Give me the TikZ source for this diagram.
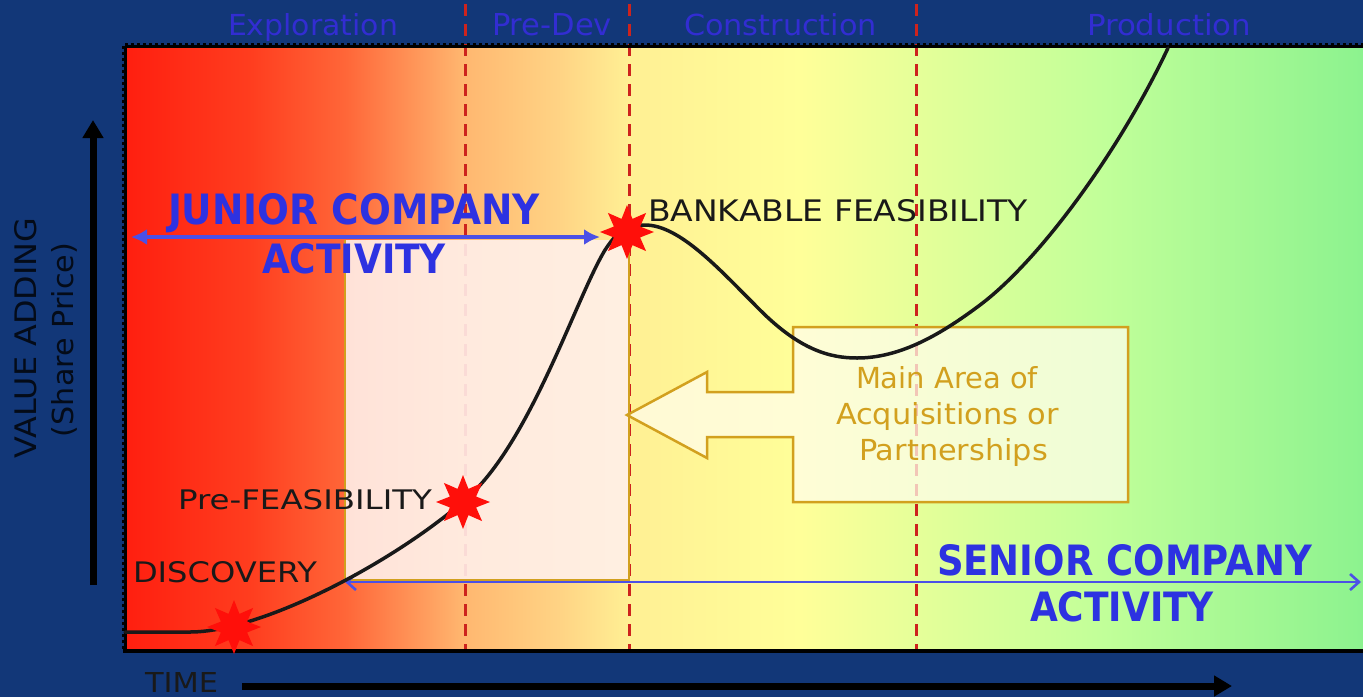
\documentclass[tikz,border=0pt]{standalone}
\usepackage{fontspec}
\setmainfont{DejaVu Sans}
\usepackage{graphicx}
\usetikzlibrary{shapes.geometric,arrows.meta}

\definecolor{navy}{RGB}{18,55,120}
\definecolor{phaseblue}{RGB}{50,45,210}
\definecolor{actblue}{RGB}{45,50,225}
\definecolor{arrowblue}{RGB}{75,80,230}
\definecolor{gold}{RGB}{210,160,30}
\definecolor{dashred}{RGB}{205,35,30}
\definecolor{starred}{RGB}{255,15,10}
\definecolor{pinkfill}{RGB}{255,240,234}
\definecolor{calloutfill}{RGB}{255,253,235}

\pgfdeclarehorizontalshading{plotgrad}{100bp}{%
rgb(0bp)=(1,0.12,0.06);
rgb(25bp)=(1,0.12,0.06);
rgb(30.05bp)=(1,0.24,0.12);
rgb(33.89bp)=(1,0.4,0.22);
rgb(38.73bp)=(1,0.72,0.44);
rgb(42.57bp)=(1,0.83,0.52);
rgb(45.36bp)=(1,0.94,0.58);
rgb(52.26bp)=(1,1,0.6);
rgb(56.95bp)=(0.9,1,0.6);
rgb(64.38bp)=(0.76,1,0.6);
rgb(75bp)=(0.55,0.95,0.56);
rgb(100bp)=(0.55,0.95,0.56)}

\newcommand{\fitt}[3]{\resizebox{#1pt}{#2pt}{#3}}

\begin{document}
\begin{tikzpicture}[x=1pt,y=-1pt,
  txt/.style={inner sep=0pt,outer sep=0pt,anchor=base west},
  phase/.style={txt,text=phaseblue},
  blk/.style={txt,text=black!90},
  act/.style={txt,text=actblue,font=\bfseries},
  goldtxt/.style={txt,text=gold},
  axislbl/.style={txt,text=black!80!navy,rotate=90},
  phaseline/.style={dashred,line width=3pt,dash pattern=on 12pt off 8pt},
  starmark/.style={star,star points=8,star point ratio=1.9,fill=starred,draw=none,minimum size=54pt,inner sep=0pt},
  axisline/.style={black,line width=7pt},
  curveline/.style={black!90,line width=3.5pt,line join=round,line cap=round}
]
\useasboundingbox (0,0) rectangle (1363,697);
\fill[navy] (0,0) rectangle (1363,697);

% plot area
\shade[shading=plotgrad] (125,47) rectangle (1363,651);

% phase separators
\draw[phaseline] (465,4) -- (465,651);
\draw[phaseline] (629,4) -- (629,651);
\draw[phaseline] (916,4) -- (916,651);

% plot border
\draw[black,line width=3pt] (125,46) -- (1363,46);
\draw[black,line width=5pt,dash pattern=on 3pt off 3pt] (125,45) -- (1363,45);
\draw[black,line width=3pt] (125,46) -- (125,651);
\draw[black,line width=5pt,dash pattern=on 3pt off 3pt] (124,46) -- (124,651);
\draw[black,line width=4pt] (123,651) -- (1363,651);

% pink junior-to-senior box
\fill[pinkfill,opacity=0.9] (345,240) rectangle (629,580);
\draw[gold,line width=2.5pt] (345,240) -- (345,580) -- (629,580) -- (629,242);

% callout arrow
\path[fill=calloutfill,fill opacity=0.75,draw=gold,line width=2.5pt,line join=miter]
  (793,327) -- (1128,327) -- (1128,502) -- (793,502) -- (793,437) -- (707,437)
  -- (707,458) -- (627,415) -- (707,372) -- (707,392) -- (793,392) -- cycle;
\node[goldtxt] (mainarea) at (856,388) {\fitt{182}{22}{Main Area of}};
\node[goldtxt] (acq) at (836,424) {\fitt{223}{22}{Acquisitions or}};
\node[goldtxt] (partn) at (859,460) {\fitt{189}{22}{Partnerships}};

% senior arrow
\coordinate (sl) at (345,582);
\coordinate (sr) at (1361,582);
\draw[arrowblue,line width=2.6pt,{Straight Barb[length=9pt,width=16pt]}-{Straight Barb[length=9pt,width=16pt]}] (sl) -- (sr);

% value curve
\draw[curveline] (125,632) -- (190,632)
  .. controls (260,632) and (390,565) .. (465,500)
  .. controls (530,444) and (575,300) .. (605,250)
  .. controls (620,227) and (630,225) .. (645,225)
  .. controls (680,225) and (720,270) .. (760,310)
  .. controls (800,350) and (830,358) .. (857,358)
  .. controls (900,358) and (940,335) .. (980,305)
  .. controls (1040,260) and (1120,150) .. (1168,48);

% junior arrow
\coordinate (jl) at (131,237);
\coordinate (jr) at (600,237);
\draw[arrowblue,line width=4pt,{Latex[length=16pt,width=16pt]}-{Latex[length=16pt,width=16pt]}] (jl) -- (jr);

% milestone stars
\node[starmark] (sdisc) at (234,627) {};
\node[starmark] (spre) at (463,502) {};
\node[starmark] (sbank) at (627,232) {};

% phase labels
\node[phase] (exploration) at (228,35) {\fitt{170}{22}{Exploration}};
\node[phase] (predev) at (492,35) {\fitt{120}{22}{Pre-Dev}};
\node[phase] (construction) at (684,35) {\fitt{193}{22}{Construction}};
\node[phase] (production) at (1087,35) {\fitt{164}{22}{Production}};

% activity labels
\node[act] (junior) at (168,224) {\fitt{372}{31}{JUNIOR COMPANY}};
\node[act] (juniorb) at (262,273) {\fitt{184}{30}{ACTIVITY}};
\node[act] (senior) at (937,575) {\fitt{375}{31}{SENIOR COMPANY}};
\node[act] (seniorb) at (1030,621) {\fitt{184}{30}{ACTIVITY}};

% milestone labels
\node[blk] (discovery) at (133,582) {\fitt{184}{21}{DISCOVERY}};
\node[blk] (prefeas) at (178,509) {\fitt{254}{20}{Pre-FEASIBILITY}};
\node[blk] (bankable) at (648,221) {\fitt{380}{22}{BANKABLE FEASIBILITY}};

% axes
\coordinate (yb) at (93,585);
\coordinate (yt) at (93,120);
\draw[axisline,-{Triangle[length=18pt,width=20pt]}] (yb) -- (yt);
\coordinate (tl) at (242,686);
\coordinate (tr) at (1232,686);
\draw[axisline,-{Triangle[length=18pt,width=20pt]}] (tl) -- (tr);

\node[axislbl] (valueadding) at (36,458) {\fitt{240}{22}{VALUE ADDING}};
\node[axislbl] (shareprice) at (73,437) {\fitt{194}{22}{(Share Price)}};
\node[blk] (time) at (145,692) {\fitt{73}{20}{TIME}};
\end{tikzpicture}
\end{document}
